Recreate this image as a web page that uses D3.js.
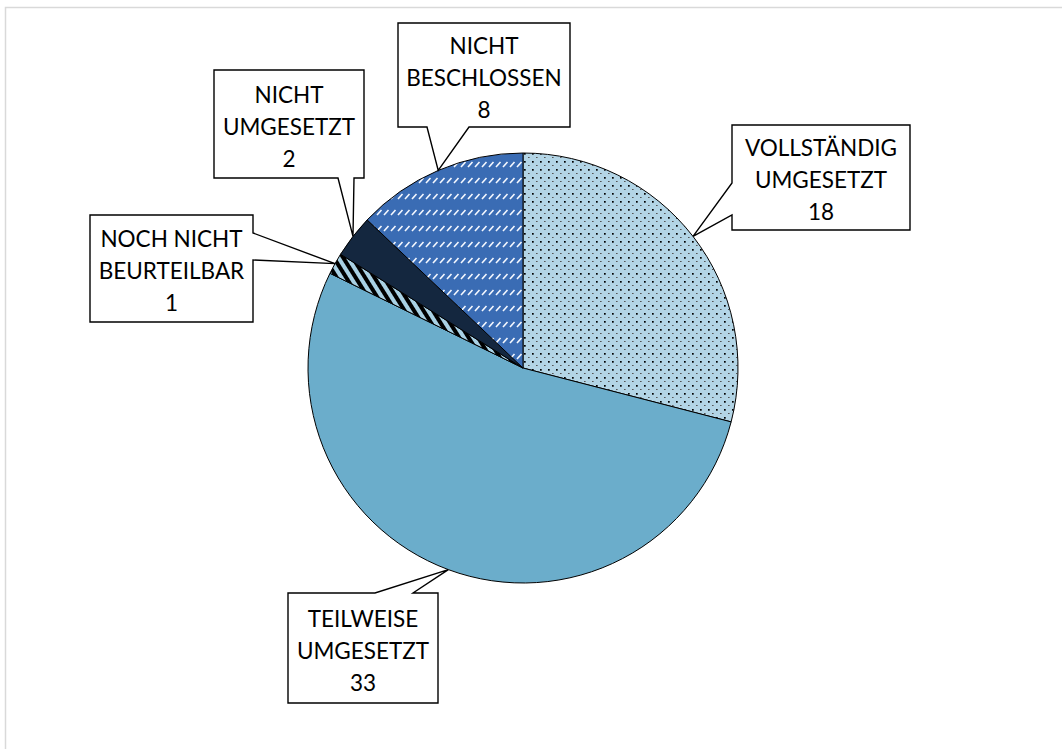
<!DOCTYPE html>
<html>
<head>
<meta charset="utf-8">
<script src="https://cdn.jsdelivr.net/npm/d3@7"></script>
<style>
  html, body { margin: 0; padding: 0; background: #fff; }
  svg { display: block; }
</style>
</head>
<body>
<svg id="chart" width="1062" height="749"></svg>
<script>
// ---- data ----
const categories = ["VOLLSTÄNDIG UMGESETZT", "TEILWEISE UMGESETZT", "NOCH NICHT BEURTEILBAR", "NICHT UMGESETZT", "NICHT BESCHLOSSEN"];
const values = [18, 33, 1, 2, 8];
const labelLines = [
  ["VOLLSTÄNDIG", "UMGESETZT"],
  ["TEILWEISE", "UMGESETZT"],
  ["NOCH NICHT", "BEURTEILBAR"],
  ["NICHT", "UMGESETZT"],
  ["NICHT", "BESCHLOSSEN"]
];

// ---- layout / style ----
const W = 1062, H = 749;
const cx = 523, cy = 368, R = 215;
const fills = ["url(#dots)", "#6badcb", "url(#stripes)", "#14273f", "url(#dashes)"];
// callout boxes: [x0, y0, x1, y1], side where the pointer leaves, pointer base positions along that side
const boxes = [
  { box: [732, 125, 910, 230], side: "left",   base: [183, 215] },
  { box: [288, 593, 438, 703], side: "top",    base: [375, 413] },
  { box: [90, 215, 253, 322],  side: "right",  base: [233, 260] },
  { box: [214, 70, 364, 178],  side: "bottom", base: [338, 354] },
  { box: [398, 23, 570, 127],  side: "bottom", base: [427, 469] }
];

const svg = d3.select("#chart");
const defs = svg.append("defs");

// dotted light blue
const pDots = defs.append("pattern").attr("id", "dots").attr("patternUnits", "userSpaceOnUse")
  .attr("width", 8).attr("height", 8);
pDots.append("rect").attr("width", 8).attr("height", 8).attr("fill", "#b3d5e6");
pDots.append("rect").attr("x", 1).attr("y", 1).attr("width", 1.7).attr("height", 1.7).attr("fill", "#000");
pDots.append("rect").attr("x", 5).attr("y", 5).attr("width", 1.6).attr("height", 1.0).attr("fill", "#555");

// white diagonal dashes on blue
const pDash = defs.append("pattern").attr("id", "dashes").attr("patternUnits", "userSpaceOnUse")
  .attr("width", 7).attr("height", 16);
pDash.append("rect").attr("width", 7).attr("height", 16).attr("fill", "#3a6cb4");
pDash.append("line").attr("x1", 1).attr("y1", 7).attr("x2", 5.5).attr("y2", 2)
  .attr("stroke", "#f4f8ff").attr("stroke-width", 1.6);

// black stripes on light blue
const pStr = defs.append("pattern").attr("id", "stripes").attr("patternUnits", "userSpaceOnUse")
  .attr("width", 8).attr("height", 8).attr("patternTransform", "rotate(-32)");
pStr.append("rect").attr("width", 8).attr("height", 8).attr("fill", "#a9d1e4");
pStr.append("rect").attr("width", 4).attr("height", 8).attr("fill", "#000");

// chart area border
svg.append("rect").attr("x", 5.5).attr("y", 7.5).attr("width", 1200).attr("height", 900)
  .attr("fill", "#fff").attr("stroke", "#d9d9d9").attr("stroke-width", 1.5);

const pie = d3.pie().sort(null).value(d => d)(values);
const arc = d3.arc().innerRadius(0).outerRadius(R);
const edge = d3.arc().innerRadius(R).outerRadius(R);

const g = svg.append("g").attr("transform", `translate(${cx},${cy})`);
g.selectAll("path.slice").data(pie).join("path")
  .attr("class", "slice")
  .attr("d", arc)
  .attr("fill", (d, i) => fills[i])
  .attr("stroke", "#000")
  .attr("stroke-width", 1);

// callouts
function calloutPath(b, tip) {
  const [x0, y0, x1, y1] = b.box;
  const [a, c] = b.base;
  const t = `${tip[0]},${tip[1]}`;
  switch (b.side) {
    case "left":
      return `M${x0},${y0} L${x1},${y0} L${x1},${y1} L${x0},${y1} L${x0},${c} L${t} L${x0},${a} Z`;
    case "right":
      return `M${x0},${y0} L${x1},${y0} L${x1},${a} L${t} L${x1},${c} L${x1},${y1} L${x0},${y1} Z`;
    case "top":
      return `M${x0},${y0} L${a},${y0} L${t} L${c},${y0} L${x1},${y0} L${x1},${y1} L${x0},${y1} Z`;
    case "bottom":
      return `M${x0},${y0} L${x1},${y0} L${x1},${y1} L${c},${y1} L${t} L${a},${y1} L${x0},${y1} Z`;
  }
}

const labels = svg.append("g");
pie.forEach((d, i) => {
  const b = boxes[i];
  const c = edge.centroid(d);
  const tip = [cx + c[0], cy + c[1]];
  labels.append("path").attr("d", calloutPath(b, tip))
    .attr("fill", "#fff").attr("stroke", "#000").attr("stroke-width", 1.4)
    .attr("stroke-linejoin", "miter");
  const mx = (b.box[0] + b.box[2]) / 2;
  const my = (b.box[1] + b.box[3]) / 2 + 3;
  const lines = labelLines[i].concat([String(values[i])]);
  const txt = labels.append("text")
    .attr("text-anchor", "middle")
    .attr("font-family", "Lato, 'Open Sans', sans-serif")
    .attr("font-size", 22.5)
    .attr("fill", "#000");
  lines.forEach((ln, k) => {
    txt.append("tspan").attr("x", mx).attr("y", my + (k - 1) * 32)
      .attr("dy", "0.35em").text(ln);
  });
});
</script>
</body>
</html>
